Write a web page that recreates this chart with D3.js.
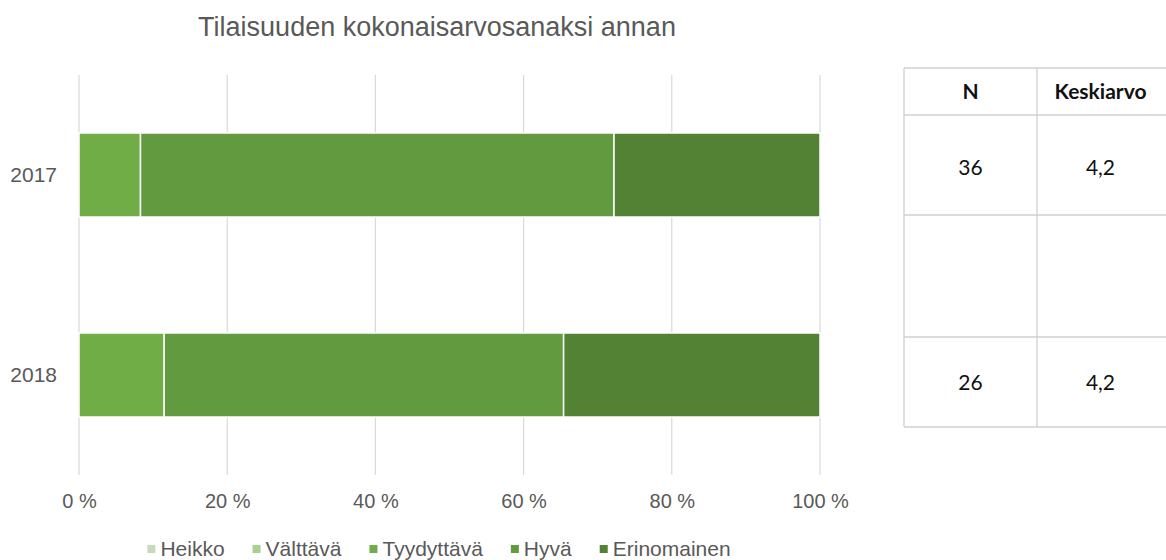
<!DOCTYPE html>
<html>
<head>
<meta charset="utf-8">
<script src="https://cdn.jsdelivr.net/npm/d3@7"></script>
<style>
  body { margin: 0; background: #fff; }
  svg { display: block; }
</style>
</head>
<body>
<script>
// data
var years = ["2017", "2018"];
var categories = ["Heikko", "Välttävä", "Tyydyttävä", "Hyvä", "Erinomainen"];
var colors = ["#c5dcb8", "#a9d18e", "#70ad47", "#629a3f", "#548235"];
// share of answers (%) per category
var share2017 = [0, 0, 8.3, 63.9, 27.8];
var share2018 = [0, 0, 11.5, 53.9, 34.6];
var xTicks = [0, 20, 40, 60, 80, 100];
// table next to the chart
var tableHeader = ["N", "Keskiarvo"];
var tableN = ["36", "", "26"];
var tableMean = ["4,2", "", "4,2"];

var W = 1166, H = 560;
var font = "'Liberation Sans', Arial, sans-serif";
var svg = d3.select("body").append("svg")
  .attr("width", W)
  .attr("height", H);

var plot = {left: 79, right: 820, top: 75, bottom: 475};

var x = d3.scaleLinear()
  .domain([0, 100])
  .range([plot.left, plot.right]);

var y = d3.scaleBand()
  .domain(years)
  .range([plot.top, plot.bottom])
  .paddingInner(0.58)
  .paddingOuter(0.29);

// title
svg.append("text")
  .attr("x", 437)
  .attr("y", 36)
  .attr("text-anchor", "middle")
  .style("font-family", font)
  .style("font-size", "27px")
  .style("fill", "#595959")
  .text("Tilaisuuden kokonaisarvosanaksi annan");

// gridlines
svg.append("g")
  .selectAll("line")
  .data(xTicks)
  .enter().append("line")
  .attr("x1", function(d) { return x(d); })
  .attr("x2", function(d) { return x(d); })
  .attr("y1", plot.top)
  .attr("y2", plot.bottom)
  .attr("stroke", "#d9d9d9")
  .attr("stroke-width", 1.2);

// x axis labels
var xaxis = d3.axisBottom(x)
  .tickValues(xTicks)
  .tickSize(0)
  .tickPadding(19)
  .tickFormat(function(d) { return d + " %"; });
var gx = svg.append("g")
  .attr("transform", "translate(0," + plot.bottom + ")")
  .call(xaxis);
gx.select(".domain").remove();
gx.selectAll("text")
  .style("font-family", font)
  .style("font-size", "20px")
  .style("fill", "#595959");

// y axis labels
var yaxis = d3.axisLeft(y).tickSize(0).tickPadding(22);
var gy = svg.append("g")
  .attr("transform", "translate(" + plot.left + ",0)")
  .call(yaxis);
gy.select(".domain").remove();
gy.selectAll("text")
  .style("font-family", font)
  .style("font-size", "21px")
  .style("fill", "#595959");

// stacked bars
var rows = [share2017, share2018].map(function(vals, i) {
  var row = {year: years[i]};
  categories.forEach(function(c, j) { row[c] = vals[j]; });
  return row;
});
var stack = d3.stack().keys(categories);
var series = stack(rows);

svg.append("g")
  .selectAll("g")
  .data(series)
  .enter().append("g")
  .attr("fill", function(d, i) { return colors[i]; })
  .selectAll("rect")
  .data(function(d) { return d; })
  .enter().append("rect")
  .filter(function(d) { return d[1] - d[0] > 0; })
  .attr("x", function(d) { return x(d[0]); })
  .attr("y", function(d) { return y(d.data.year); })
  .attr("width", function(d) { return x(d[1]) - x(d[0]); })
  .attr("height", y.bandwidth())
  .attr("stroke", "#fff")
  .attr("stroke-width", 1.5);

// legend
var legend = svg.append("g").attr("transform", "translate(0,549)");
var items = legend.selectAll("g")
  .data(categories)
  .enter().append("g");
items.append("rect")
  .attr("width", 8)
  .attr("height", 8)
  .attr("y", -4)
  .attr("fill", function(d, i) { return colors[i]; });
items.append("text")
  .attr("x", 13)
  .attr("dy", "0.35em")
  .style("font-family", font)
  .style("font-size", "21px")
  .style("fill", "#595959")
  .text(function(d) { return d; });
var widths = [];
items.each(function() { widths.push(13 + d3.select(this).select("text").node().getComputedTextLength()); });
var gap = 28;
var total = d3.sum(widths) + gap * (widths.length - 1);
var cx = 439 - total / 2;
items.attr("transform", function(d, i) {
  var pos = cx;
  cx += widths[i] + gap;
  return "translate(" + pos + ",0)";
});

// table
var tbl = {left: 904, mid: 1037, right: 1166};
var rowLines = [68, 115, 215, 337, 427];
var tg = svg.append("g");
tg.selectAll("line.h")
  .data(rowLines)
  .enter().append("line")
  .attr("class", "h")
  .attr("x1", tbl.left)
  .attr("x2", tbl.right)
  .attr("y1", function(d) { return d; })
  .attr("y2", function(d) { return d; })
  .attr("stroke", "#d0d0d0")
  .attr("stroke-width", 1.3);
tg.selectAll("line.v")
  .data([tbl.left, tbl.mid])
  .enter().append("line")
  .attr("class", "v")
  .attr("x1", function(d) { return d; })
  .attr("x2", function(d) { return d; })
  .attr("y1", rowLines[0])
  .attr("y2", rowLines[rowLines.length - 1])
  .attr("stroke", "#d0d0d0")
  .attr("stroke-width", 1.3);

var colCenters = [(tbl.left + tbl.mid) / 2, (tbl.mid + tbl.right) / 2 - 1];
tg.selectAll("text.head")
  .data(tableHeader)
  .enter().append("text")
  .attr("class", "head")
  .attr("x", function(d, i) { return colCenters[i]; })
  .attr("y", 99)
  .attr("text-anchor", "middle")
  .style("font-family", "Lato, Carlito, sans-serif")
  .style("font-weight", "bold")
  .style("font-size", "21px")
  .style("fill", "#111")
  .text(function(d) { return d; });

var cellY = [175, 276, 390];
[tableN, tableMean].forEach(function(col, ci) {
  tg.selectAll("text.c" + ci)
    .data(col)
    .enter().append("text")
    .attr("class", "c" + ci)
    .attr("x", colCenters[ci])
    .attr("y", function(d, i) { return cellY[i]; })
    .attr("text-anchor", "middle")
    .style("font-family", "Lato, Carlito, sans-serif")
    .style("font-size", "21px")
    .style("fill", "#111")
    .text(function(d) { return d; });
});
</script>
</body>
</html>
